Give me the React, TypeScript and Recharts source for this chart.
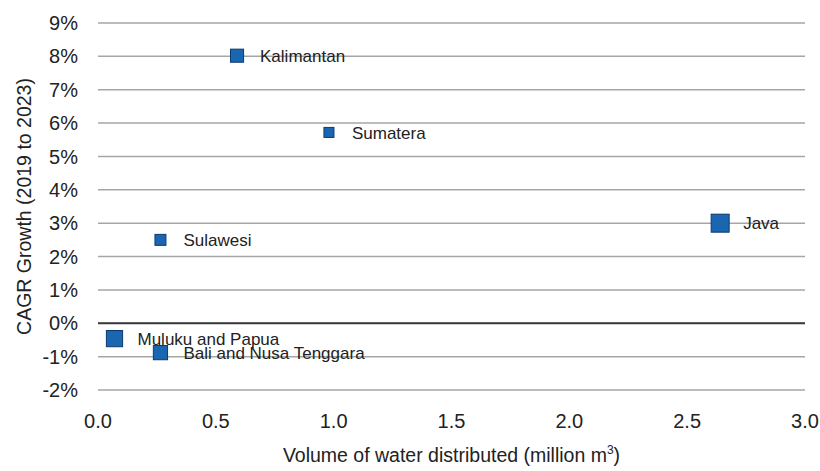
import { ScatterChart, Scatter, XAxis, YAxis, ZAxis, CartesianGrid, ReferenceLine } from 'recharts';

const regions = ['Java', 'Sumatera', 'Kalimantan', 'Sulawesi', 'Bali and Nusa Tenggara', 'Muluku and Papua'];
const volume = [2.64, 0.98, 0.59, 0.265, 0.265, 0.07];
const cagr = [3.0, 5.72, 8.02, 2.5, -0.88, -0.46];
const weight = [3.2, 1.0, 1.7, 1.2, 2.0, 2.6];

const xTicks = [0, 0.5, 1, 1.5, 2, 2.5, 3];
const yTicks = [-2, -1, 0, 1, 2, 3, 4, 5, 6, 7, 8, 9];

const data = regions.map((name, i) => ({ name, x: volume[i], y: cagr[i], z: weight[i] }));

const font = '"Liberation Sans", Arial, sans-serif';

const Marker = (props: any) => {
  const { cx, cy, size, payload } = props;
  const side = Math.sqrt(size ?? 144);
  return (
    <g>
      <rect
        x={cx - side / 2}
        y={cy - side / 2}
        width={side}
        height={side}
        fill="#1a66b0"
        stroke="#0b3a6e"
        strokeWidth={1}
      />
      <text
        x={cx + 23}
        y={cy}
        dy="0.36em"
        fontSize={17}
        fontFamily={font}
        fill="#222"
      >
        {payload.name}
      </text>
    </g>
  );
};

const XTitle = ({ viewBox }: any) => (
  <text
    x={viewBox.x + viewBox.width / 2}
    y={viewBox.y + 72}
    textAnchor="middle"
    fontSize={19.5}
    fontFamily={font}
    fill="#222"
  >
    Volume of water distributed (million m
    <tspan fontSize={12} dy={-8}>3</tspan>
    <tspan dy={8}>)</tspan>
  </text>
);

const YTitle = ({ viewBox }: any) => {
  const cx = viewBox.x + 31;
  const cy = viewBox.y + viewBox.height / 2;
  return (
    <text
      x={cx}
      y={cy}
      transform={`rotate(-90 ${cx} ${cy})`}
      textAnchor="middle"
      fontSize={19.5}
      fontFamily={font}
      fill="#222"
    >
      CAGR Growth (2019 to 2023)
    </text>
  );
};

const App = () => {
  return (
    <div style={{ position: 'absolute', left: 0, top: 0, background: '#fff' }}>
      <ScatterChart width={820} height={471} margin={{ top: 23, right: 15, bottom: 21, left: 0 }}>
        <CartesianGrid vertical={false} stroke="#a6a6a6" strokeWidth={1.5} />
        <XAxis
          type="number"
          dataKey="x"
          domain={[0, 3]}
          ticks={xTicks}
          tickFormatter={(v: number) => v.toFixed(1)}
          axisLine={false}
          tickLine={false}
          tickSize={0}
          tickMargin={24}
          height={60}
          interval={0}
          tick={{ fontSize: 20, fontFamily: font, fill: '#222' }}
          label={<XTitle />}
        />
        <YAxis
          type="number"
          dataKey="y"
          domain={[-2, 9]}
          ticks={yTicks}
          tickFormatter={(v: number) => `${v}%`}
          axisLine={false}
          tickLine={false}
          tickSize={0}
          tickMargin={20}
          width={98}
          interval={0}
          tick={{ fontSize: 20, fontFamily: font, fill: '#222' }}
          label={<YTitle />}
        />
        <ZAxis type="number" dataKey="z" domain={[1, 3.2]} range={[100, 324]} />
        <ReferenceLine y={0} stroke="#3a3a3a" strokeWidth={2} />
        <Scatter data={data} shape={<Marker />} isAnimationActive={false} />
      </ScatterChart>
    </div>
  );
};

export default App;
